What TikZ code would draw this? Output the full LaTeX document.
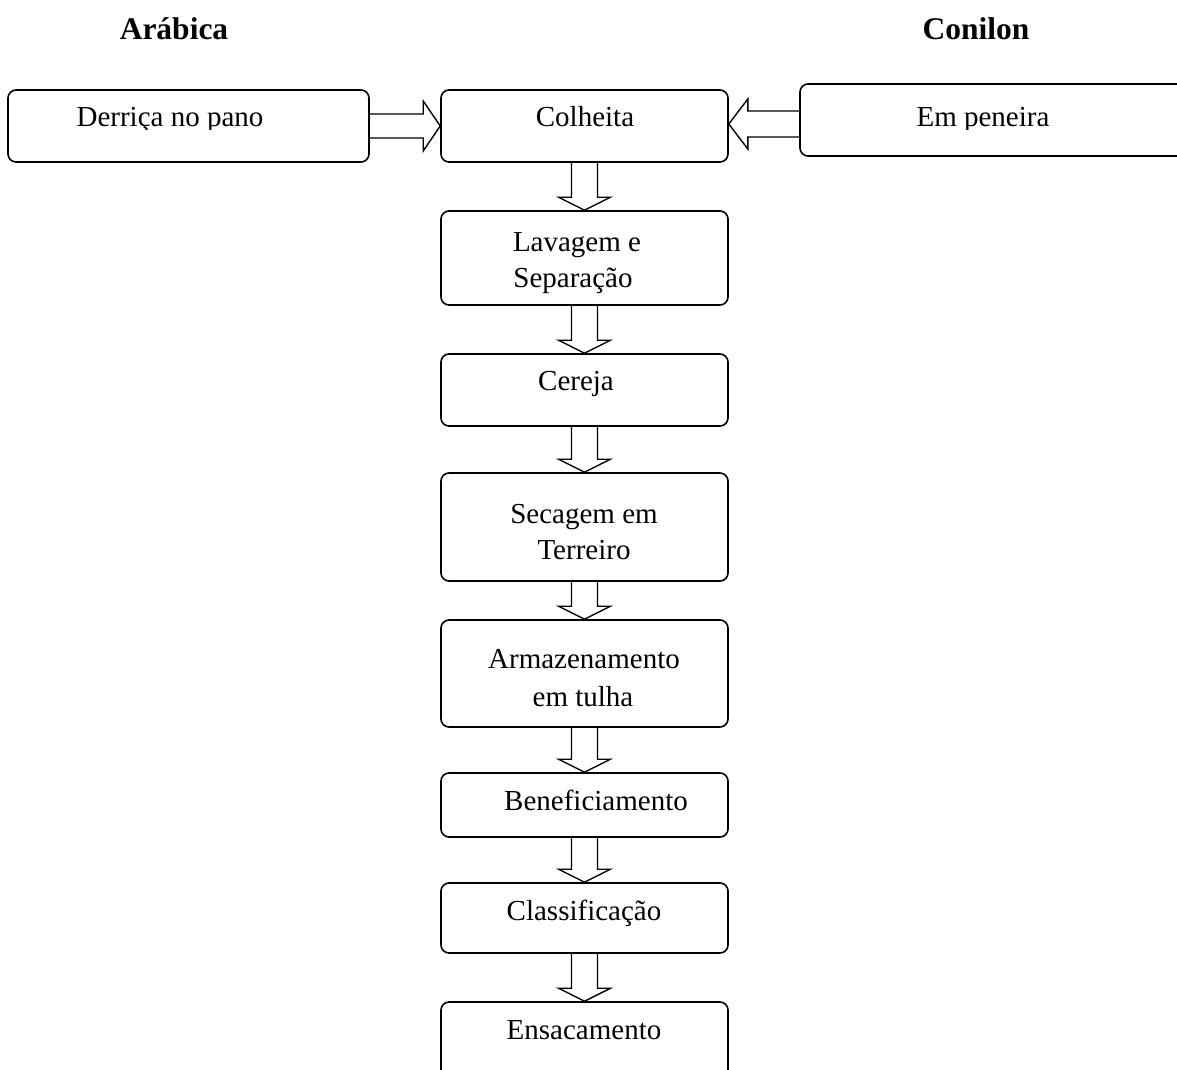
\documentclass[tikz,border=0pt]{standalone}
\usepackage{fontspec}
\setmainfont{Liberation Serif}
\usetikzlibrary{calc}

\tikzset{
  stagebox/.style={draw, line width=1.6pt, rounded corners=8pt,
    minimum width=287pt, inner sep=0pt},
  blockarrow/.style={draw, line width=1.4pt, line join=miter},
  lbl/.style={anchor=base, inner sep=0pt, font=\fontsize{29}{35}\selectfont},
  headlbl/.style={anchor=base, inner sep=0pt, font=\fontsize{31.5}{38}\selectfont\bfseries},
}

% hollow block arrow pointing down from box #1 to box #2
\newcommand\downblk[2]{%
  \draw[blockarrow] ($(#1.south)+(-13,0)$) -- ($(#2.north)+(-13,-13)$)
    -- ($(#2.north)+(-26,-13)$) -- (#2.north) -- ($(#2.north)+(26,-13)$)
    -- ($(#2.north)+(13,-13)$) -- ($(#1.south)+(13,0)$);}

\begin{document}
\begin{tikzpicture}[x=1pt, y=-1pt]
  \clip (0,0) rectangle (1177,1070);

  % column titles
  \node[headlbl] (tarabica) at (174,40) {Arábica};
  \node[headlbl] (tconilon) at (976,40) {Conilon};

  % boxes
  \node[stagebox, minimum width=361pt, minimum height=72pt] (derrica) at (188.5,126) {};
  \node[stagebox, minimum height=72pt]  (colheita) at (584.5,126) {};
  \node[stagebox, minimum width=420pt, minimum height=72pt] (peneira) at (1010,120) {};
  \node[stagebox, minimum height=94pt]  (lavagem)  at (584.5,258) {};
  \node[stagebox, minimum height=72pt]  (cereja)   at (584.5,390) {};
  \node[stagebox, minimum height=108pt] (secagem)  at (584.5,527) {};
  \node[stagebox, minimum height=107pt] (armaz)    at (584.5,673.5) {};
  \node[stagebox, minimum height=64pt]  (benef)    at (584.5,805) {};
  \node[stagebox, minimum height=70pt]  (classif)  at (584.5,918) {};
  \node[stagebox, minimum height=80pt]  (ensac)    at (584.5,1042) {};

  % texts of the top row, cut off just below the baseline
  \begin{scope}
    \clip (0,0) rectangle (1177,130);
    \node[lbl] (tderrica) at (170,127) {Derriça no pano};
    \node[lbl] (tpeneira) at (983,127) {Em peneira};
  \end{scope}
  \node[lbl] (tcolheita) at (585,126) {Colheita};

  % texts of the main column
  \node[lbl] (tlav1) at (577,251) {Lavagem e};
  \node[lbl] (tlav2) at (573,287) {Separação};
  \node[lbl] (tcer)  at (576,390) {Cereja};
  \node[lbl] (tsec1) at (584,523) {Secagem em};
  \node[lbl] (tsec2) at (584,559) {Terreiro};
  \node[lbl] (tarm1) at (584,668) {Armazenamento};
  \node[lbl] (tarm2) at (583,706) {em tulha};
  \node[lbl] (tben)  at (596,810) {Beneficiamento};
  \node[lbl] (tcla)  at (584,920) {Classificação};
  \node[lbl] (tens)  at (584,1039) {Ensacamento};

  % side arrows into Colheita
  \draw[blockarrow] ($(derrica.east)+(0,-12)$) -- ($(colheita.west)+(-17,-12)$)
    -- ($(colheita.west)+(-17,-25)$) -- (colheita.west)
    -- ($(colheita.west)+(-17,25)$) -- ($(colheita.west)+(-17,12)$)
    -- ($(derrica.east)+(0,12)$);
  \coordinate (ltip) at ($(colheita.east)+(0,-2)$);
  \coordinate (lbase) at (peneira.west |- ltip);
  \draw[blockarrow] ($(lbase)+(0,-13)$) -- ($(ltip)+(19,-13)$)
    -- ($(ltip)+(19,-25)$) -- (ltip)
    -- ($(ltip)+(19,25)$) -- ($(ltip)+(19,13)$)
    -- ($(lbase)+(0,13)$);

  % main column arrows
  \downblk{colheita}{lavagem}
  \downblk{lavagem}{cereja}
  \downblk{cereja}{secagem}
  \downblk{secagem}{armaz}
  \downblk{armaz}{benef}
  \downblk{benef}{classif}
  \downblk{classif}{ensac}
\end{tikzpicture}
\end{document}
